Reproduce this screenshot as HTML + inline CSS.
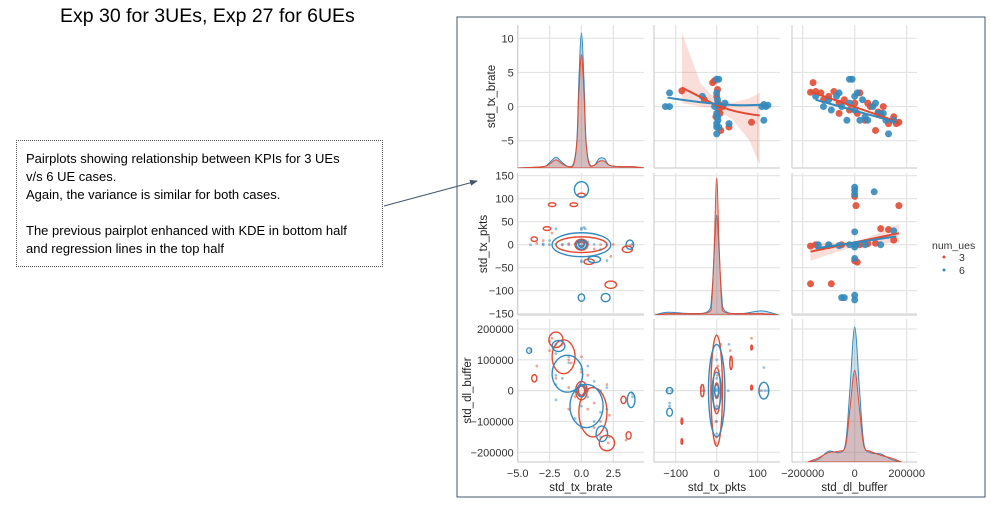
<!DOCTYPE html>
<html><head><meta charset="utf-8">
<style>
body{margin:0;width:991px;height:505px;background:#fff;overflow:hidden;position:relative;font-family:"Liberation Sans",sans-serif}
#title{position:absolute;left:60px;top:5px;font-size:19.5px;color:#000;white-space:nowrap}
#note{position:absolute;left:16px;top:140px;width:367px;height:127px;border:1px dotted #555;box-sizing:border-box;padding:9px 0 0 9px;font-size:13px;line-height:18px;color:#000;white-space:nowrap}
svg{position:absolute;left:0;top:0}
</style></head>
<body>
<div id="title">Exp 30 for 3UEs, Exp 27 for 6UEs</div>
<div id="note">Pairplots showing relationship between KPIs for 3 UEs<br>v/s 6 UE cases.<br>Again, the variance is similar for both cases.<br><br>The previous pairplot enhanced with KDE in bottom half<br>and regression lines in the top half</div>
<svg id="chart" width="991" height="505"></svg>
<script>
// ---- data ----
const vars = ["std_tx_brate","std_tx_pkts","std_dl_buffer"];
const colTicks = [[-5,-2.5,0,2.5],[-100,0,100],[-200000,0,200000]];
const colTickLabels = [["−5.0","−2.5","0.0","2.5"],["−100","0","100"],["−200000","0","200000"]];
const rowTicks = [[10,5,0,-5],[150,100,50,0,-50,-100,-150],[200000,100000,0,-100000,-200000]];
const rowTickLabels = [["10","5","0","−5"],["150","100","50","0","−50","−100","−150"],["200000","100000","0","−100000","−200000"]];
const hueLevels = ["3","6"];
// diagonal densities (relative heights)
const kdeBrateX = [-5,-3,-2.5,-2,-1.5,-1,-0.6,-0.35,-0.2,0,0.2,0.35,0.6,1,1.4,1.8,2.2,3,4,5];
const kdeBrate3 = [0,0.01,0.03,0.06,0.03,0.01,0.03,0.2,0.55,0.84,0.55,0.2,0.03,0.02,0.05,0.05,0.02,0.01,0.01,0];
const kdeBrate6 = [0,0.01,0.04,0.08,0.04,0.01,0.04,0.22,0.65,1.0,0.65,0.22,0.04,0.02,0.07,0.07,0.02,0.01,0.01,0];
const kdePktsX = [-150,-120,-60,-20,-12,-6,0,6,12,20,60,110,150];
const kdePkts3 = [0,0.01,0.01,0.02,0.1,0.5,1.0,0.5,0.1,0.02,0.01,0.01,0];
const kdePkts6 = [0,0.02,0.01,0.03,0.15,0.45,0.73,0.45,0.15,0.03,0.01,0.03,0];
const kdeBufX = [-180000,-140000,-100000,-60000,-35000,-18000,0,18000,35000,60000,100000,140000,180000];
const kdeBuf3 = [0,0.03,0.07,0.08,0.12,0.4,0.68,0.4,0.12,0.08,0.05,0.03,0];
const kdeBuf6 = [0,0.02,0.08,0.07,0.14,0.55,1.0,0.55,0.14,0.07,0.06,0.02,0];
// upper: pkts (x) vs brate (y)
const pb3x=[-85,-10,-5,0,3,5,8,10,30,85,-30,15,2,-2];
const pb3y=[2.3,3.5,3.8,1.5,0.5,-0.5,-1,-3.5,-3,-2.3,1,0,2.5,-1.5];
const pb6x=[-125,-115,-115,-35,0,5,0,2,0,3,0,5,30,110,115,120,115,0,20,-5,3,125,2,0];
const pb6y=[0,2,0,1.5,4,4,2,1,-1,-2,-3,-3,-2.5,0,0.3,0,-2,-4,0.5,0,0.2,0.2,-1.5,-2.5];
const pbLine3x=[-85,-40,0,40,80,105], pbLine3y=[2.8,1.4,0.2,-0.6,-1.1,-1.3];
const pbLine6x=[-120,-60,0,60,120], pbLine6y=[1.3,0.8,0.4,0.2,0.3];
const pbBand3x=[-85,-40,0,40,80,105], pbBand3lo=[0.5,0,-0.3,-2,-5,-8.5], pbBand3hi=[10.8,3.5,0.8,0.6,1.2,2];
// upper: buffer (x) vs brate (y)
const bb3x=[-160000,-150000,-130000,-100000,-80000,-60000,-40000,-20000,0,20000,40000,60000,80000,100000,130000,150000,160000,170000,-120000,-60000,10000,50000,110000,-170000,90000];
const bb3y=[3.5,2.2,2,1.5,2.2,0.5,1,-0.5,0.5,2,-2,0,-3.5,-1,-2.5,-1.5,-2.5,-2.3,1,-1,-1,0.5,0,2.1,-0.8];
const bb6x=[-150000,-120000,-100000,-90000,-70000,-50000,-30000,-20000,-10000,0,0,10000,20000,30000,50000,70000,90000,110000,130000,150000,-60000,-20000,40000,80000,120000];
const bb6y=[1.5,0,1,-0.5,1.5,0,-2,4,4,1.5,-0.5,2,-2,1,-2,0,-1,-1,-4,-2,2,0.5,-1.5,0.5,-2];
const bbLine3x=[-170000,170000], bbLine3y=[2.2,-2.3];
const bbLine6x=[-150000,160000], bbLine6y=[1.0,-2.3];
// upper: buffer (x) vs pkts (y)
const bp3x=[-170000,-150000,-100000,-50000,0,5000,10000,20000,50000,100000,130000,170000,-170000,-90000,0,150000,80000];
const bp3y=[-3,0,-2,0,105,85,-38,0,2,35,33,85,-85,-85,-35,10,3];
const bp6x=[-140000,-100000,-60000,-20000,0,0,0,0,0,0,0,5000,75000,40000,100000,150000,-50000,-40000,0,0];
const bp6y=[0,0,-2,0,125,118,110,28,-30,-110,-120,0,115,0,0,30,-115,-115,0,-5];
const bpLine3x=[-170000,170000], bpLine3y=[-15,25];
const bpLine6x=[-150000,160000], bpLine6y=[-8,18];
// lower contours [cx, cy, rx, ry, rotDeg]
const kbp3=[[0,108,0.3,4,0],[-2.3,87,0.3,4,0],[-0.6,87,0.3,4,0],[-2.7,35,0.3,4,0],[-3.7,12,0.25,5,0],[0,0,2.0,17,0],[0,0,0.5,12,0],[0,3,0.25,6,0],[3.6,-10,0.4,7,0],[0.6,-37,0.4,6,0],[2.3,-87,0.45,8,0]];
const kbp6=[[0,120,0.55,17,0],[0,0,2.3,26,0],[0,0,0.4,10,0],[0,0,0.22,6,0],[3.8,0,0.3,10,0],[1.0,-32,0.5,7,0],[0,-115,0.25,8,0],[1.9,-115,0.35,9,0]];
const kbb3=[[-1.4,110000,0.9,55000,0],[0.9,-70000,1.1,80000,0],[2.0,-170000,0.6,25000,0],[-3.7,40000,0.2,12000,0],[3.3,-30000,0.2,12000,0],[3.7,-145000,0.2,12000,0],[0,0,0.45,30000,0],[0,0,0.25,15000,0],[-2,165000,0.55,25000,0]];
const kbb6=[[-1.1,55000,1.2,60000,0],[0.4,-50000,1.3,70000,0],[-4.1,130000,0.2,9000,0],[3.9,-30000,0.3,25000,0],[1.6,-140000,0.45,25000,0],[-1.8,145000,0.5,18000,0],[0,0,0.35,20000,0]];
const kpb3=[[0,0,14,180000,0],[0,0,9,75000,0],[0,0,5,25000,0],[-35,0,4,20000,0],[35,90000,3,22000,0],[85,140000,2,8000,0],[85,10000,2,8000,0],[-85,-165000,2,9000,0],[-85,-100000,2,9000,0]];
const kpb6=[[0,0,20,150000,0],[0,0,11,60000,0],[0,0,5,20000,0],[-115,0,8,10000,0],[-115,-70000,7,13000,0],[115,0,12,27000,0]];
// ---- layout ----
const colX=[[517.7,644],[654,780],[792,917]];
const rowY=[[25,168],[173,315],[319,462]];
const xMap=[[-5,517.7,2.5,613.3],[-100,675.7,100,757.7],[-200000,802.7,200000,906.7]];
const yMap=[[10,38.3,-5,140.7],[150,175.7,-150,313.7],[200000,329,-200000,452.3]];
const RED="#e24a33",BLUE="#348abd";
const NS="http://www.w3.org/2000/svg";
const svg=document.getElementById("chart");
function sx(c,v){const m=xMap[c];return m[1]+(v-m[0])*(m[3]-m[1])/(m[2]-m[0]);}
function sy(r,v){const m=yMap[r];return m[1]+(v-m[0])*(m[3]-m[1])/(m[2]-m[0]);}
function mk(tag,attrs,parent){const e=document.createElementNS(NS,tag);for(const k in attrs)e.setAttribute(k,attrs[k]);(parent||svg).appendChild(e);return e;}
let fr=mk("rect",{x:457,y:17,width:528,height:480,fill:"none",stroke:"#44546a","stroke-width":1});


mk("defs",{}).innerHTML='<marker id="ah" markerWidth="8" markerHeight="8" refX="7" refY="4" orient="auto"><path d="M0,1 L8,4 L0,7z" fill="#44546a"/></marker>';
let ar=mk("line",{x1:384,y1:206,x2:477,y2:181,stroke:"#44546a","stroke-width":1,"marker-end":"url(#ah)"});


for(let r=0;r<3;r++)for(let c=0;c<3;c++){
  const g=mk("g",{});
  
  
  const x0=colX[c][0],x1=colX[c][1],y0=rowY[r][0],y1=rowY[r][1];
  const cp=mk("clipPath",{id:"cp"+r+c},g);mk("rect",{x:x0,y:y0,width:x1-x0,height:y1-y0},cp);
  colTicks[c].forEach(t=>mk("line",{x1:sx(c,t),x2:sx(c,t),y1:y0,y2:y1,stroke:"#e3e3e3","stroke-width":1.2},g));
  rowTicks[r].forEach(t=>mk("line",{x1:x0,x2:x1,y1:sy(r,t),y2:sy(r,t),stroke:"#e3e3e3","stroke-width":1.2},g));
  mk("line",{x1:x0,x2:x0,y1:y0,y2:y1,stroke:"#d0d0d0","stroke-width":1.2},g);
  mk("line",{x1:x0,x2:x1,y1:y1,y2:y1,stroke:"#d0d0d0","stroke-width":1.2},g);
  window["P"+r+c]=mk("g",{"clip-path":"url(#cp"+r+c+")"},g);
}
for(let c=0;c<3;c++){colTicks[c].forEach((t,i)=>{const e=mk("text",{x:sx(c,t),y:477,"font-size":11,"text-anchor":"middle",fill:"#333"});e.textContent=colTickLabels[c][i];
 
 });
 const l=mk("text",{x:(colX[c][0]+colX[c][1])/2,y:491,"font-size":11.5,"text-anchor":"middle",fill:"#222"});l.textContent=vars[c];
 
 }
for(let r=0;r<3;r++){rowTicks[r].forEach((t,i)=>{const e=mk("text",{x:colX[0][0]-4,y:sy(r,t)+4,"font-size":11,"text-anchor":"end",fill:"#333"});e.textContent=rowTickLabels[r][i];
 
 });
 const lx=[495,487,471][r],cy=(rowY[r][0]+rowY[r][1])/2;
 const l=mk("text",{x:lx,y:cy,"font-size":11.5,"text-anchor":"middle",fill:"#222",transform:"rotate(-90 "+lx+" "+cy+")"});l.textContent=vars[r];
 
 }
function smooth(P){let d="M"+P[0][0]+","+P[0][1];for(let i=0;i<P.length-1;i++){const p0=P[i-1]||P[i],p1=P[i],p2=P[i+1],p3=P[i+2]||p2;
 d+=" C"+(p1[0]+(p2[0]-p0[0])/6)+","+(p1[1]+(p2[1]-p0[1])/6)+" "+(p2[0]-(p3[0]-p1[0])/6)+","+(p2[1]-(p3[1]-p1[1])/6)+" "+p2[0]+","+p2[1];}return d;}
function diag(r,c,xs,ys,col,hmax){const base=rowY[r][1];const P=xs.map((x,i)=>[sx(c,x),base-ys[i]*hmax]);
 const d=smooth(P)+" L"+P[P.length-1][0]+","+base+" L"+P[0][0]+","+base+"Z";
 const p=mk("path",{d:d,fill:col,"fill-opacity":0.25,stroke:col,"stroke-width":1},window["P"+r+c]);
 
 }
diag(0,0,kdeBrateX,kdeBrate6,BLUE,135);diag(0,0,kdeBrateX,kdeBrate3,RED,135);
diag(1,1,kdePktsX,kdePkts6,BLUE,137);diag(1,1,kdePktsX,kdePkts3,RED,137);
diag(2,2,kdeBufX,kdeBuf6,BLUE,135);diag(2,2,kdeBufX,kdeBuf3,RED,135);
function pts(r,c,xs,ys,col,rad,op){xs.forEach((x,i)=>{const e=mk("circle",{cx:sx(c,x),cy:sy(r,ys[i]),r:rad,fill:col,"fill-opacity":op},window["P"+r+c]);
 
 });}
function line(r,c,xs,ys,col){const d=smooth(xs.map((x,i)=>[sx(c,x),sy(r,ys[i])]));
 const e=mk("path",{d:d,fill:"none",stroke:col,"stroke-width":2},window["P"+r+c]);
 
 }
function band(r,c,xs,lo,hi,col){let d=xs.map((x,i)=>(i?"L":"M")+sx(c,x)+","+sy(r,hi[i])).join(" ");for(let i=xs.length-1;i>=0;i--)d+=" L"+sx(c,xs[i])+","+sy(r,lo[i]);
 const e=mk("path",{d:d+"Z",fill:col,"fill-opacity":0.18,stroke:"none"},window["P"+r+c]);
 
 }
band(0,1,pbBand3x,pbBand3lo,pbBand3hi,RED);
pts(0,1,pb3x,pb3y,RED,3.5,0.9);pts(0,1,pb6x,pb6y,BLUE,3.5,0.9);
line(0,1,pbLine3x,pbLine3y,RED);line(0,1,pbLine6x,pbLine6y,BLUE);
pts(0,2,bb3x,bb3y,RED,3.5,0.9);pts(0,2,bb6x,bb6y,BLUE,3.5,0.9);
line(0,2,bbLine3x,bbLine3y,RED);line(0,2,bbLine6x,bbLine6y,BLUE);
band(1,2,[-170000,0,170000],[-35,-3,5],[5,3,45],RED);
pts(1,2,bp3x,bp3y,RED,3.5,0.9);pts(1,2,bp6x,bp6y,BLUE,3.5,0.9);
line(1,2,bpLine3x,bpLine3y,RED);line(1,2,bpLine6x,bpLine6y,BLUE);
function ell(r,c,arr,col){arr.forEach(a=>{const cx=sx(c,a[0]),cy=sy(r,a[1]);const rx=Math.abs(sx(c,a[0]+a[2])-cx),ry=Math.abs(sy(r,a[1]+a[3])-cy);
 const e=mk("ellipse",{cx:cx,cy:cy,rx:rx,ry:ry,fill:"none",stroke:col,"stroke-width":1.4,transform:"rotate("+a[4]+" "+cx+" "+cy+")"},window["P"+r+c]);
 
 });}
ell(1,0,kbp3,RED);ell(1,0,kbp6,BLUE);
ell(2,0,kbb3,RED);ell(2,0,kbb6,BLUE);
ell(2,1,kpb3,RED);ell(2,1,kpb6,BLUE);
pts(1,0,pb3y,pb3x.map(v=>v*0.3),RED,1.4,0.5);pts(1,0,pb6y,pb6x.map(v=>v*0.3),BLUE,1.4,0.5);
pts(2,0,bb3y,bb3x,RED,1.4,0.5);pts(2,0,bb6y,bb6x,BLUE,1.4,0.5);
pts(2,1,bp3y,bp3x,RED,1.4,0.5);pts(2,1,bp6y,bp6x,BLUE,1.4,0.5);
const lg=mk("g",{});


let lt=mk("text",{x:932,y:249,"font-size":10.5,fill:"#333"},lg);lt.textContent="num_ues";
[[RED,"3",261],[BLUE,"6",274]].forEach(o=>{const c=mk("circle",{cx:944,cy:o[2]-4,r:1.5,fill:o[0]},lg);
 
 
 const t=mk("text",{x:959,y:o[2],"font-size":10.5,fill:"#333"},lg);t.textContent=o[1];
 
 });
</script>
</body></html>
